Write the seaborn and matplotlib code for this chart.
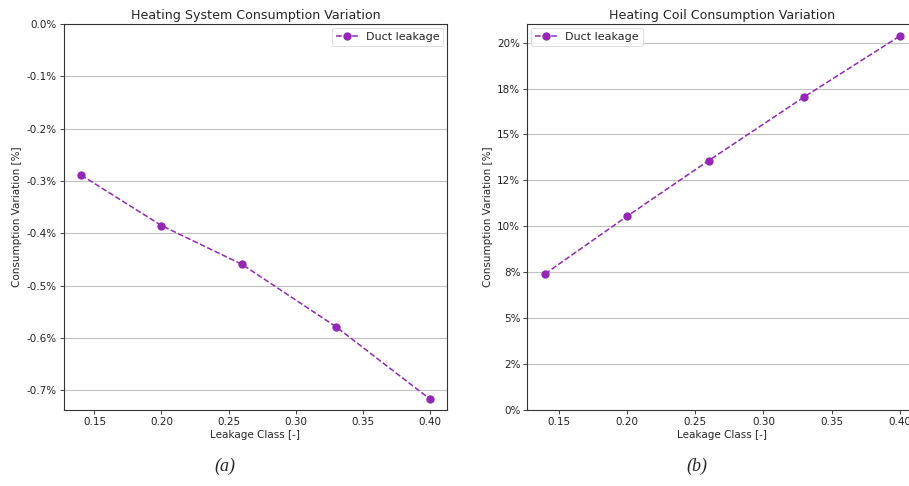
import matplotlib
matplotlib.use("Agg")
import matplotlib.pyplot as plt
from matplotlib.ticker import MultipleLocator, FuncFormatter
import seaborn as sns
import pandas as pd

# Leakage classes simulated
leakage_class = [0.14, 0.20, 0.26, 0.33, 0.40]
# Relative consumption variation (fractions)
heating_system_var = [-0.002885, -0.00385, -0.00459, -0.00578, -0.00716]
heating_coil_var = [0.0741, 0.1054, 0.1358, 0.1705, 0.2036]

series_label = "Duct leakage"
titles = ["Heating System Consumption Variation", "Heating Coil Consumption Variation"]
xlabel = "Leakage Class [-]"
ylabel = "Consumption Variation [%]"
captions = ["(a)", "(b)"]

color = "#9427B5"
fs_tick = 7.5
fs_title = 9.1

sns.set_style("white")
plt.rcParams["font.family"] = ["DejaVu Sans"]
plt.rcParams["axes.unicode_minus"] = False


def pct_formatter(decimals):
    return FuncFormatter(lambda v, pos: f"{round(v, 8):.{decimals}%}")


fig = plt.figure(figsize=(9.09, 4.86), dpi=100)
ax1 = fig.add_axes([0.070, 0.1564, 0.4218, 0.794])
ax2 = fig.add_axes([0.580, 0.1564, 0.4295, 0.794])

df1 = pd.DataFrame({"x": leakage_class, "y": heating_system_var})
df2 = pd.DataFrame({"x": leakage_class, "y": heating_coil_var})

for ax, df, title, loc, dec, step in [
    (ax1, df1, titles[0], "upper right", 1, 0.001),
    (ax2, df2, titles[1], "upper left", 0, 0.025),
]:
    sns.lineplot(data=df, x="x", y="y", ax=ax, color=color, marker="o",
                 markersize=6, markeredgewidth=0, linestyle="--", linewidth=1.1,
                 label=series_label)
    ax.set_title(title, fontsize=fs_title, pad=4)
    ax.set_xlabel(xlabel, fontsize=fs_tick, labelpad=2)
    ax.set_ylabel(ylabel, fontsize=fs_tick, labelpad=3)
    ax.xaxis.set_major_locator(MultipleLocator(0.05))
    ax.xaxis.set_major_formatter(FuncFormatter(lambda v, pos: f"{v:.2f}"))
    ax.yaxis.set_major_locator(MultipleLocator(step))
    ax.yaxis.set_major_formatter(pct_formatter(dec))
    ax.tick_params(axis="both", labelsize=fs_tick, length=3, width=0.6,
                   pad=2, bottom=True, left=True, colors="#222222")
    ax.grid(axis="y", color="#c0c0c0", linewidth=0.8)
    ax.grid(axis="x", visible=False)
    for sp in ax.spines.values():
        sp.set_visible(True)
        sp.set_color("#333333")
        sp.set_linewidth(0.8)
    leg = ax.legend(loc=loc, fontsize=8, frameon=True, borderpad=0.35,
                    handlelength=2.0, handletextpad=0.7, borderaxespad=0.35)
    leg.get_frame().set_linewidth(0.6)
    leg.get_frame().set_edgecolor("#d0d0d0")

# y limits: anchored at zero on one side, 5% auto margin on the other
lo, hi = min(heating_system_var), max(heating_system_var)
ax1.set_ylim(lo - 0.05 * (hi - lo), 0)
lo, hi = min(heating_coil_var), max(heating_coil_var)
ax2.set_ylim(0, hi + 0.05 * (hi - lo))

for ax, cap, xc in zip([ax1, ax2], captions, [0.42, 0.435]):
    ax.text(xc, -0.145, cap, transform=ax.transAxes,
            ha="center", va="center", fontsize=13, style="italic",
            family="Liberation Serif")

fig.savefig("out.png", dpi=100)
